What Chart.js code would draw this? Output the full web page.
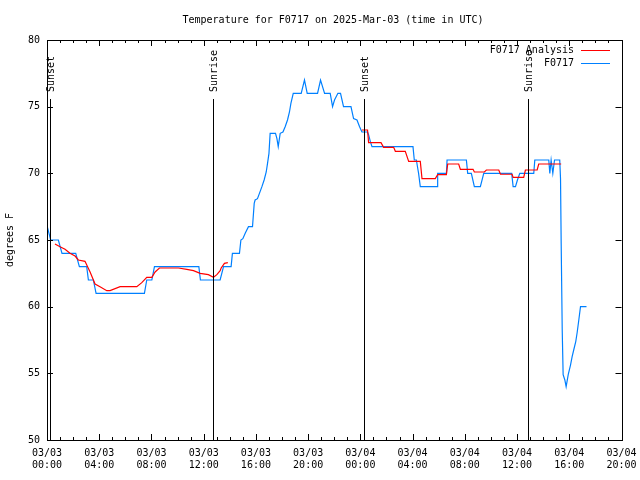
<!DOCTYPE html>
<html>
<head>
<meta charset="utf-8">
<script src="https://cdn.jsdelivr.net/npm/chart.js@4/dist/chart.umd.min.js"></script>
<style>
  html, body { margin: 0; padding: 0; background: #fff; }
  #wrap { width: 640px; height: 480px; }
</style>
</head>
<body>
<div id="wrap"><canvas id="chart" width="640" height="480"></canvas></div>
<script>
// hours since 03/03 00:00 UTC
const obsHours = [0.02, 0.28, 0.87, 1.15, 2.20, 2.48, 3.04, 3.17, 3.55, 3.76, 7.46, 7.64, 8.03, 8.23,
  11.63, 11.75, 13.26, 13.52, 14.10, 14.20, 14.74, 14.85, 15.00, 15.18, 15.43, 15.74, 15.87, 15.94,
  16.12, 16.27, 16.46, 16.63, 16.79, 16.89, 17.00, 17.09, 17.50, 17.61, 17.71, 17.86, 18.07, 18.24,
  18.42, 18.57, 18.68, 18.86, 19.47, 19.72, 19.93, 20.72, 20.95, 21.26, 21.69, 21.87, 22.02, 22.28,
  22.48, 22.71, 23.28, 23.48, 23.74, 23.94, 24.12, 24.55, 24.63, 24.76, 24.89, 28.03, 28.13, 28.29,
  28.39, 28.46, 28.59, 29.87, 29.92, 30.59, 30.64, 32.12, 32.22, 32.50, 32.73, 33.19, 33.45, 35.59,
  35.70, 35.88, 36.03, 36.21, 37.28, 37.36, 38.43, 38.51, 38.61, 38.74, 38.87, 39.27, 39.33, 39.38,
  39.46, 39.53, 39.66, 39.76, 39.92, 40.09, 40.22, 40.34, 40.50, 40.61, 40.73, 40.86, 41.32];
const obsTemps = [66, 65, 65, 64, 64, 63, 63, 62, 62, 61, 61, 62, 62, 63,
  63, 62, 62, 63, 63, 64, 64, 65, 65.1, 65.5, 66, 66, 67.75, 68,
  68.1, 68.5, 69, 69.5, 70.1, 70.75, 71.5, 73, 73, 72.6, 72, 73, 73.1, 73.5,
  74, 74.6, 75.25, 76, 76, 77, 76, 76, 77, 76, 76, 75, 75.5, 76,
  76, 75, 75, 74.1, 74, 73.5, 73.1, 73.1, 72.9, 72.4, 72, 72, 71, 71,
  70.4, 70, 69, 69, 70, 70, 71, 71, 70, 70, 69, 69, 70, 70,
  69, 69, 69.5, 70, 70, 71, 71, 70, 71, 70, 71, 71, 69.6, 64.75,
  58.25, 54.9, 54.5, 54, 54.9, 55.6, 56.25, 56.75, 57.4, 58.1, 59, 60, 60];

// analysis, null marks the gap between the two runs
const anaHours = [0.61, 1.00, 1.38, 1.76, 2.15, 2.40, 2.91, 3.30, 3.68, 4.06, 4.58, 4.83, 5.60, 6.11,
  6.88, 7.26, 7.64, 8.03, 8.28, 8.61, 9.30, 10.07, 10.71, 11.22, 11.73, 12.36, 12.75, 13.01, 13.26,
  13.34, 13.59, 13.85, 18.0,
  24.12, 24.55, 24.63, 25.58, 25.78, 26.55, 26.68, 27.44, 27.70, 28.59, 28.72, 29.74, 29.92, 30.59,
  30.69, 31.53, 31.66, 32.63, 32.73, 33.50, 33.65, 34.60, 34.73, 35.62, 35.70, 36.51, 36.64, 37.54,
  37.66, 39.38];
const anaTemps = [64.7, 64.5, 64.3, 64.0, 63.8, 63.5, 63.4, 62.6, 61.7, 61.5, 61.2, 61.2, 61.5, 61.5,
  61.5, 61.8, 62.2, 62.2, 62.6, 62.9, 62.9, 62.9, 62.8, 62.7, 62.5, 62.4, 62.2, 62.4, 62.7,
  62.9, 63.25, 63.3, null,
  73.25, 73.25, 72.3, 72.3, 71.95, 71.95, 71.65, 71.65, 70.9, 70.9, 69.6, 69.6, 69.9, 69.9,
  70.7, 70.7, 70.3, 70.3, 70.1, 70.1, 70.25, 70.25, 69.93, 69.93, 69.7, 69.7, 70.25, 70.25,
  70.7, 70.7];

const sunHours = [0.23, 12.74, 24.31, 36.84];
const sunLabels = ['Sunset', 'Sunrise', 'Sunset', 'Sunrise'];

const xTickLabels = {
  0: ['03/03', '00:00'], 4: ['03/03', '04:00'], 8: ['03/03', '08:00'], 12: ['03/03', '12:00'],
  16: ['03/03', '16:00'], 20: ['03/03', '20:00'], 24: ['03/04', '00:00'], 28: ['03/04', '04:00'],
  32: ['03/04', '08:00'], 36: ['03/04', '12:00'], 40: ['03/04', '16:00'], 44: ['03/04', '20:00'],
};
const yTicks = [50, 55, 60, 65, 70, 75, 80];

const FONT = '10px "DejaVu Sans Mono", monospace';
const BLUE = 'rgb(0,128,255)';
const RED = 'rgb(255,0,0)';

const toPoints = (xs, ys) => xs.map((x, i) => ({ x: x, y: ys[i] }));

const gnuplotLook = {
  id: 'gnuplotLook',
  afterDatasetsDraw(chart) {
    const { ctx, chartArea: a, scales } = chart;
    const xs = scales.x;
    const ys = scales.y;
    ctx.save();
    ctx.strokeStyle = '#000';
    ctx.fillStyle = '#000';
    ctx.lineWidth = 1;

    // sunrise / sunset markers
    sunHours.forEach((h, i) => {
      const px = Math.round(xs.getPixelForValue(h)) + 0.5;
      ctx.beginPath();
      ctx.moveTo(px, 99);
      ctx.lineTo(px, a.bottom);
      ctx.stroke();
      ctx.save();
      ctx.translate(px + 1, 92);
      ctx.rotate(-Math.PI / 2);
      ctx.font = FONT;
      ctx.textAlign = 'left';
      ctx.textBaseline = 'middle';
      ctx.fillText(sunLabels[i], 0, 0);
      ctx.restore();
    });

    // frame
    ctx.strokeRect(Math.round(a.left) + 0.5, Math.round(a.top) + 0.5,
      Math.round(a.right - a.left), Math.round(a.bottom - a.top));

    // inward tick marks, mirrored
    ctx.beginPath();
    for (let h = 0; h <= 44; h++) {
      const px = Math.round(xs.getPixelForValue(h)) + 0.5;
      const len = h % 4 === 0 ? 6 : 3;
      ctx.moveTo(px, a.bottom);
      ctx.lineTo(px, a.bottom - len);
      ctx.moveTo(px, a.top);
      ctx.lineTo(px, a.top + len);
    }
    yTicks.forEach((v) => {
      const py = Math.round(ys.getPixelForValue(v)) + 0.5;
      ctx.moveTo(a.left, py);
      ctx.lineTo(a.left + 6, py);
      ctx.moveTo(a.right, py);
      ctx.lineTo(a.right - 6, py);
    });
    ctx.stroke();

    ctx.font = FONT;
    // title
    ctx.textAlign = 'center';
    ctx.textBaseline = 'middle';
    ctx.fillText('Temperature for F0717 on 2025-Mar-03 (time in UTC)', 333, 20);

    // y axis title
    ctx.save();
    ctx.translate(10, 240);
    ctx.rotate(-Math.PI / 2);
    ctx.fillText('degrees F', 0, 0);
    ctx.restore();

    // legend
    const legend = [['F0717 Analysis', RED, 50], ['F0717', BLUE, 63]];
    legend.forEach(([label, color, y]) => {
      ctx.fillStyle = '#000';
      ctx.textAlign = 'right';
      ctx.fillText(label, 574, y);
      ctx.strokeStyle = color;
      ctx.beginPath();
      ctx.moveTo(581, y + 0.5);
      ctx.lineTo(610, y + 0.5);
      ctx.stroke();
    });
    ctx.restore();
  },
};

new Chart(document.getElementById('chart'), {
  type: 'line',
  data: {
    datasets: [
      {
        label: 'F0717 Analysis',
        data: toPoints(anaHours, anaTemps),
        borderColor: RED,
        borderWidth: 1.2,
        pointRadius: 0,
        tension: 0,
        spanGaps: false,
      },
      {
        label: 'F0717',
        data: toPoints(obsHours, obsTemps),
        borderColor: BLUE,
        borderWidth: 1.2,
        pointRadius: 0,
        tension: 0,
      },
    ],
  },
  options: {
    responsive: false,
    animation: false,
    layout: { padding: { top: 40, right: 18.5, left: 0, bottom: 0 } },
    plugins: { legend: { display: false }, title: { display: false }, tooltip: { enabled: false } },
    scales: {
      x: {
        type: 'linear',
        min: 0,
        max: 44,
        grid: { display: false, drawTicks: false },
        border: { display: false },
        afterFit(scale) {
          scale.height = 40;
          scale.paddingLeft = 0;
          scale.paddingRight = 0;
        },
        ticks: {
          stepSize: 1,
          autoSkip: false,
          maxRotation: 0,
          padding: 8,
          color: '#000',
          font: { family: '"DejaVu Sans Mono", monospace', size: 10, lineHeight: 1.15 },
          callback: (v) => xTickLabels[v] || '',
        },
      },
      y: {
        min: 50,
        max: 80,
        grid: { display: false, drawTicks: false },
        border: { display: false },
        afterFit(scale) {
          scale.width = 47;
          scale.paddingTop = 0;
          scale.paddingBottom = 0;
        },
        afterBuildTicks(scale) { scale.ticks = yTicks.map((v) => ({ value: v })); },
        ticks: {
          padding: 7,
          color: '#000',
          font: { family: '"DejaVu Sans Mono", monospace', size: 10 },
        },
      },
    },
  },
  plugins: [gnuplotLook],
});
</script>
</body>
</html>
